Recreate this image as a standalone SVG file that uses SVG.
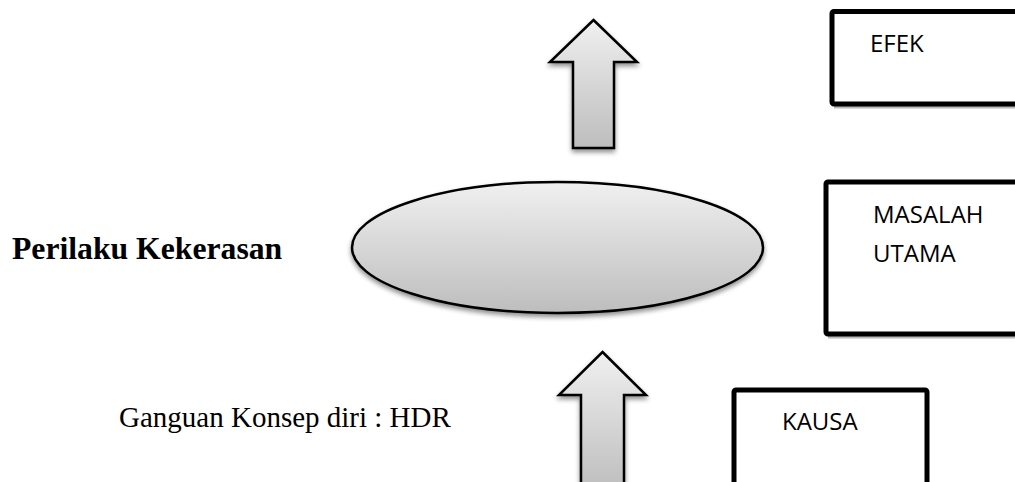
<svg xmlns="http://www.w3.org/2000/svg" width="1015" height="482" viewBox="0 0 1015 482">
  <style>
    .box { fill: #ffffff; stroke: #000000; stroke-width: 5; }
    .box-shadow { fill: none; stroke: #b8b8b8; stroke-width: 3; }
    .shape { stroke: #000000; stroke-width: 2.5; stroke-linejoin: miter; }
    .label { font-family: "Open Sans", "Liberation Sans", sans-serif; font-size: 24px; fill: #000000; }
    .serif { font-family: "Liberation Serif", "Times New Roman", serif; fill: #000000; }
  </style>
  <defs>
    <linearGradient id="greyFill" x1="0" y1="0" x2="0" y2="1">
      <stop offset="0" stop-color="#f0f0f0"/>
      <stop offset="1" stop-color="#bdbdbd"/>
    </linearGradient>
    <filter id="softShadow" x="-10%" y="-10%" width="130%" height="140%">
      <feGaussianBlur in="SourceAlpha" stdDeviation="2.5"/>
      <feOffset dx="0" dy="3" result="blur"/>
      <feComponentTransfer><feFuncA type="linear" slope="0.45"/></feComponentTransfer>
      <feMerge>
        <feMergeNode/>
        <feMergeNode in="SourceGraphic"/>
      </feMerge>
    </filter>
  </defs>

  <!-- side labels -->
  <g id="label-perilaku">
    <text class="serif" x="12" y="259" font-size="31.7" font-weight="bold">Perilaku Kekerasan</text>
  </g>
  <g id="label-gangguan">
    <text class="serif" x="119" y="427" font-size="29">Ganguan Konsep diri : HDR</text>
  </g>

  <!-- central problem ellipse -->
  <g id="node-ellipse">
    <ellipse class="shape" cx="557.5" cy="247.5" rx="205.5" ry="65.5" fill="url(#greyFill)" filter="url(#softShadow)"/>
  </g>

  <!-- block arrows -->
  <g id="connectors">
    <path id="arrow-top" class="shape" fill="url(#greyFill)" filter="url(#softShadow)"
          d="M593.5,20 L637,62 L614,62 L614,148 L573,148 L573,62 L550,62 Z"/>
    <path id="arrow-bottom" class="shape" fill="url(#greyFill)" filter="url(#softShadow)"
          d="M602.5,352 L646,395 L624,395 L624,492 L581,492 L581,395 L559,395 Z"/>
  </g>

  <!-- legend boxes -->
  <g id="node-efek">
    <path class="box-shadow" d="M834,107 H1020"/>
    <rect class="box" x="832" y="11.5" width="200" height="92.5" rx="2"/>
    <text class="label" x="870" y="52">EFEK</text>
  </g>
  <g id="node-masalah">
    <path class="box-shadow" d="M828,337 H1020"/>
    <rect class="box" x="826" y="182" width="200" height="152" rx="2"/>
    <text class="label" x="873" y="223">MASALAH</text>
    <text class="label" x="873" y="262">UTAMA</text>
  </g>
  <g id="node-kausa">
    <rect class="box" x="734" y="390" width="193" height="110" rx="2"/>
    <text class="label" x="782" y="430">KAUSA</text>
  </g>
</svg>
